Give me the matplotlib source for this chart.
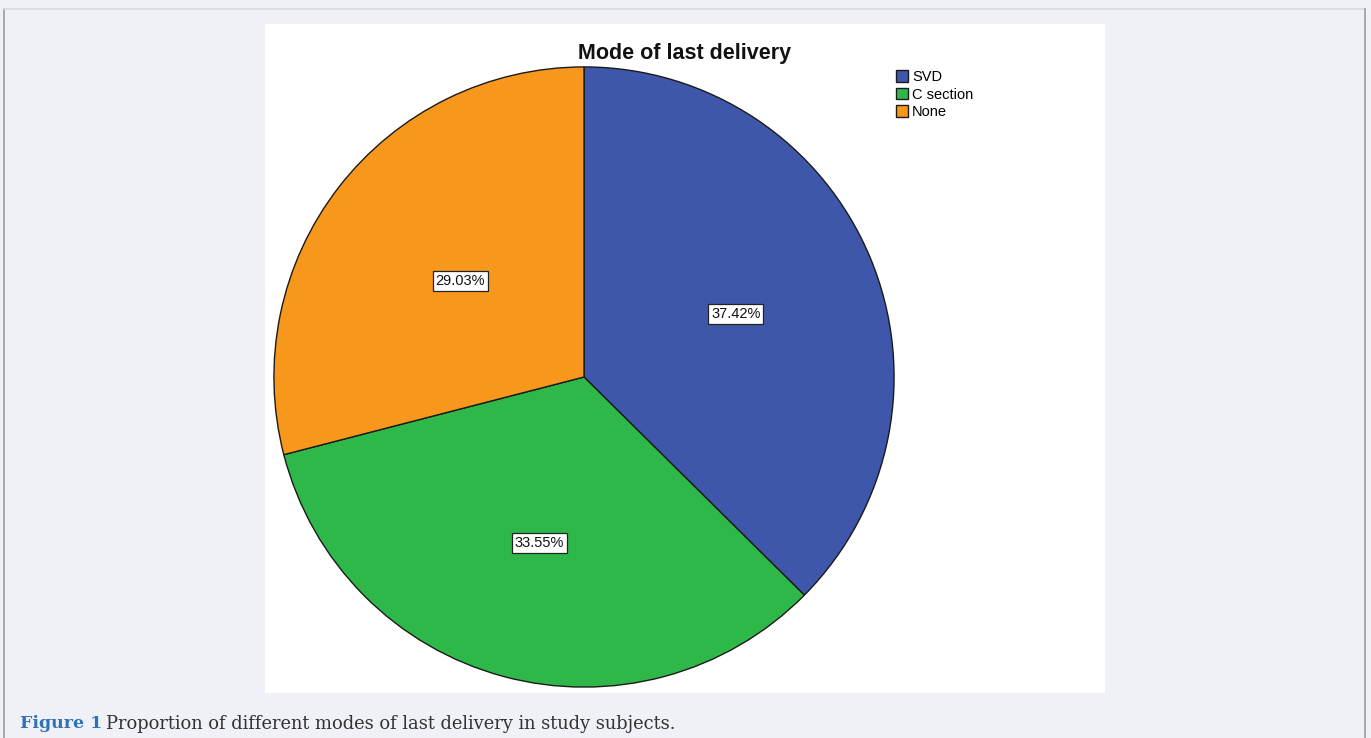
import numpy as np
import matplotlib.pyplot as plt

# delivery mode shares (%)
modes = ['SVD', 'C section', 'None']
shares = [37.42, 33.55, 29.03]
colors = ['#3f57aa', '#2fb84a', '#f7981d']
label_dist = [0.53, 0.555, 0.505]

W, H = 1371, 738
fig = plt.figure(figsize=(W / 100, H / 100), dpi=100)
fig.patch.set_facecolor('#f0f1f7')

# page frame
fig.add_artist(plt.Line2D([4 / W, 4 / W], [0, 1 - 9 / H], color='#9a9aa2', lw=1.2))
fig.add_artist(plt.Line2D([4 / W, 1365 / W], [1 - 9 / H, 1 - 9 / H], color='#d8d9de', lw=1.2))
fig.add_artist(plt.Line2D([1365 / W, 1365 / W], [0, 1 - 9 / H], color='#9a9aa2', lw=1.2))

# white chart panel behind the pie
panel = fig.add_axes([265 / W, 1 - 693 / H, 840 / W, 669 / H])
panel.set_facecolor('white')
panel.set_xticks([])
panel.set_yticks([])
for s in panel.spines.values():
    s.set_visible(False)

cx, cy, r = 584, 377, 311
ax = fig.add_axes([(cx - r) / W, (H - cy - r) / H, 2 * r / W, 2 * r / H])
wedges, texts, autotexts = ax.pie(
    shares, colors=colors, startangle=90, counterclock=False,
    autopct='%.2f%%', pctdistance=0.52, radius=1,
    wedgeprops=dict(edgecolor='#1a1a1a', linewidth=1.0),
    textprops=dict(family='Liberation Sans', fontsize=10.5, color='#111111'))
for w, t, d in zip(wedges, autotexts, label_dist):
    mid = np.deg2rad((w.theta1 + w.theta2) / 2)
    t.set_position((d * np.cos(mid), d * np.sin(mid)))
    t.set_bbox(dict(boxstyle='square,pad=0.2', facecolor='white', edgecolor='#222222', linewidth=0.9))
ax.set_xlim(-1.003, 1.003)
ax.set_ylim(-1.003, 1.003)
ax.set_aspect('equal')
ax.axis('off')

fig.text(685 / W, 1 - 53 / H, 'Mode of last delivery', ha='center', va='center',
         family='Liberation Sans', fontweight='bold', fontsize=15.5, color='#111111')

leg = fig.legend(wedges, modes, loc='upper left', bbox_to_anchor=(896 / W, 1 - 70 / H),
                 frameon=False, prop=dict(family='Liberation Sans', size=10.5),
                 handlelength=0.8, handleheight=0.85, handletextpad=0.3,
                 labelspacing=0.25, borderpad=0, borderaxespad=0)

fig.text(20 / W, 1 - 724 / H, 'Figure 1', ha='left', va='center',
         family='DejaVu Serif', fontweight='bold', fontsize=12.5, color='#2e72b8')
fig.text(106 / W, 1 - 724 / H, 'Proportion of different modes of last delivery in study subjects.',
         ha='left', va='center', family='DejaVu Serif', fontsize=12.9, color='#333333')

fig.savefig('out.png', dpi=100, facecolor=fig.get_facecolor())
